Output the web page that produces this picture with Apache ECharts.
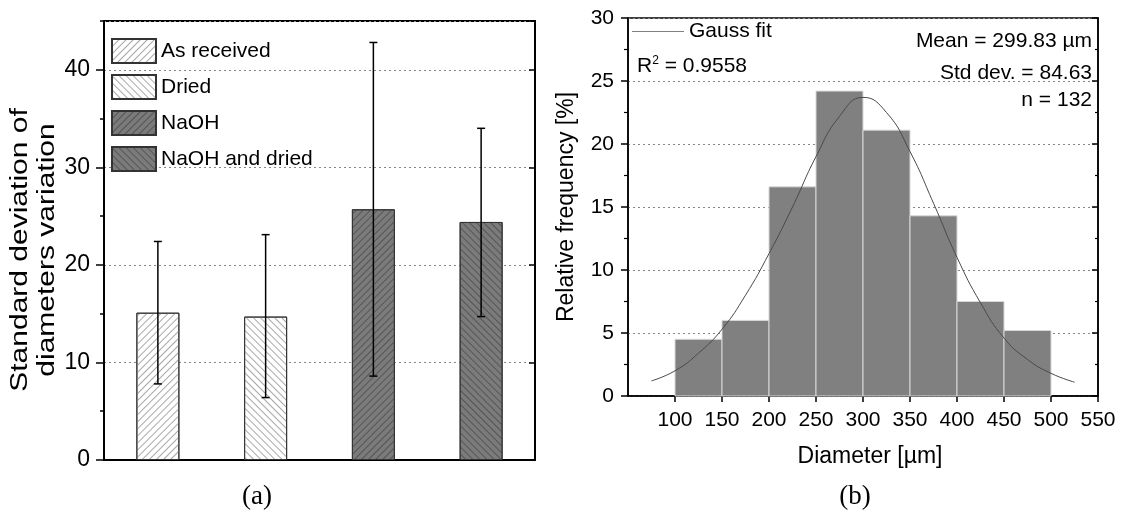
<!DOCTYPE html>
<html><head><meta charset="utf-8">
<script src="https://cdn.jsdelivr.net/npm/echarts@6/dist/echarts.min.js"></script>
<style>html,body{margin:0;padding:0;background:#fff}#c{width:1125px;height:525px}</style>
</head><body><div id="c"></div>
<script>
// ---- (a) data ----
const groups = ['As received', 'Dried', 'NaOH', 'NaOH and dried'];
const meanSD = [15.1, 14.7, 25.7, 24.4];
const errLow = [7.8, 6.4, 8.6, 14.7];
const errHigh = [22.4, 23.1, 42.8, 34.0];
// ---- (b) data ----
const binStart = [100, 150, 200, 250, 300, 350, 400, 450];
const binEnd = [150, 200, 250, 300, 350, 400, 450, 500];
const relFreq = [4.5, 6.0, 16.6, 24.2, 21.1, 14.3, 7.5, 5.2];
const gaussX = [75, 100, 125, 150, 175, 200, 225, 250, 275, 300, 325, 350, 375, 400, 425, 450, 475, 500, 525];
const gaussY = [1.2, 2.0, 3.4, 5.3, 8.0, 11.3, 15.0, 19.0, 22.2, 23.7, 22.5, 19.4, 15.3, 11.0, 7.4, 4.6, 2.9, 1.8, 1.1];

const SANS = "'Liberation Sans', Arial, sans-serif";
const SERIF = "'Liberation Serif', 'Times New Roman', serif";

const fills = ['#ffffff', '#ffffff', '#7b7b7b', '#7b7b7b'];
const hatchColors = ['#a8a8a8', '#a8a8a8', '#555555', '#555555'];
const hatchRot = [-Math.PI / 4, Math.PI / 4, -Math.PI / 4, Math.PI / 4];

const chart = echarts.init(document.getElementById('c'), null, { renderer: 'canvas' });

const barSeries = groups.map((g, i) => ({
  name: g,
  type: 'bar',
  xAxisIndex: 0, yAxisIndex: 0,
  stack: 'one',
  barWidth: 43,
  data: groups.map((_, j) => (j === i ? meanSD[i] : '-')),
  itemStyle: {
    color: fills[i],
    borderColor: '#333',
    borderWidth: 1,
    decal: {
      symbol: 'rect', symbolSize: 1,
      dashArrayX: [1, 0], dashArrayY: [1, 4],
      rotation: hatchRot[i], color: hatchColors[i]
    }
  },
  emphasis: { disabled: true },
  z: 2
}));

const errSeries = {
  type: 'custom',
  xAxisIndex: 0, yAxisIndex: 0,
  data: groups.map((_, i) => [i, errLow[i], errHigh[i]]),
  renderItem: function (params, api) {
    const x = api.value(0);
    const lo = api.coord([x, api.value(1)]);
    const hi = api.coord([x, api.value(2)]);
    const hw = 4;
    const st = { stroke: '#000', lineWidth: 1.5 };
    return {
      type: 'group',
      children: [
        { type: 'line', shape: { x1: lo[0], y1: lo[1], x2: hi[0], y2: hi[1] }, style: st },
        { type: 'line', shape: { x1: lo[0] - hw, y1: lo[1], x2: lo[0] + hw, y2: lo[1] }, style: st },
        { type: 'line', shape: { x1: hi[0] - hw, y1: hi[1], x2: hi[0] + hw, y2: hi[1] }, style: st }
      ]
    };
  },
  z: 5
};

const histSeries = {
  type: 'custom',
  xAxisIndex: 1, yAxisIndex: 3,
  data: binStart.map((s, i) => [s, binEnd[i], relFreq[i]]),
  renderItem: function (params, api) {
    const p0 = api.coord([api.value(0), api.value(2)]);
    const p1 = api.coord([api.value(1), 0]);
    return {
      type: 'rect',
      shape: { x: p0[0], y: p0[1], width: p1[0] - p0[0], height: p1[1] - p0[1] },
      style: { fill: '#808080', stroke: '#d8d8d8', lineWidth: 1 }
    };
  },
  z: 2
};

const gaussSeries = {
  name: 'Gauss fit',
  type: 'line',
  xAxisIndex: 1, yAxisIndex: 3,
  data: gaussX.map((x, i) => [x, gaussY[i]]),
  smooth: true,
  symbol: 'none',
  lineStyle: { color: '#4a4a4a', width: 1 },
  itemStyle: { color: '#808080' },
  z: 4
};

const dotted = { show: true, lineStyle: { color: '#888', type: [2, 3], width: 1 } };

chart.setOption({
  animation: false,
  backgroundColor: '#fff',
  grid: [
    { left: 104, top: 21, width: 431, height: 439, show: true, borderColor: '#000', borderWidth: 2, backgroundColor: 'transparent' },
    { left: 628, top: 18, width: 470, height: 378, show: true, borderColor: '#000', borderWidth: 1.5, backgroundColor: 'transparent' }
  ],
  legend: [
    {
      data: groups, orient: 'vertical', left: 111, top: 38, padding: 0,
      icon: 'rect',
      itemWidth: 44, itemHeight: 24, itemGap: 10,
      textStyle: { fontSize: 21, fontFamily: SANS, color: '#000' },
      selectedMode: false
    },
    {
      data: [{ name: 'Gauss fit', icon: 'rect' }], left: 632, top: 21, padding: 0,
      itemWidth: 52, itemHeight: 1,
      itemStyle: { color: '#808080' },
      textStyle: { fontSize: 21, fontFamily: SANS, color: '#000' },
      selectedMode: false
    }
  ],
  xAxis: [
    {
      type: 'category', gridIndex: 0, data: groups,
      axisLine: { lineStyle: { color: '#000', width: 2 } },
      axisTick: { show: false }, axisLabel: { show: false }
    },
    {
      type: 'value', gridIndex: 1, min: 50, max: 550, interval: 50,
      axisLine: { onZero: false, lineStyle: { color: '#000', width: 1.5 } },
      axisTick: { length: 6, lineStyle: { color: '#000', width: 1.5 } },
      axisLabel: { showMinLabel: false, fontSize: 21, fontFamily: SANS, color: '#000', margin: 14 },
      splitLine: { show: false }
    }
  ],
  yAxis: [
    {
      type: 'value', gridIndex: 0, min: 0, max: 45, interval: 10, position: 'left',
      axisLine: { show: true, lineStyle: { color: '#000', width: 2 } },
      axisTick: { show: true, length: 8, lineStyle: { color: '#000', width: 1.5 } },
      axisLabel: { showMaxLabel: false, fontSize: 23, fontFamily: SANS, color: '#000', margin: 14 },
      splitLine: dotted
    },
    {
      type: 'value', gridIndex: 0, min: 0, max: 45, interval: 5, position: 'left', offset: 0,
      axisLine: { show: false },
      axisTick: { show: true, length: 4, lineStyle: { color: '#000', width: 1.5 } },
      axisLabel: { show: false }, splitLine: { show: false }
    },
    {
      type: 'value', gridIndex: 0, min: 0, max: 45, interval: 10, position: 'right',
      axisLine: { show: true, lineStyle: { color: '#000', width: 1.5 } },
      axisTick: { show: true, inside: true, length: 6, lineStyle: { color: '#000', width: 1.5 } },
      axisLabel: { show: false }, splitLine: { show: false }
    },
    {
      type: 'value', gridIndex: 1, min: 0, max: 30, interval: 5, position: 'left',
      axisLine: { show: true, lineStyle: { color: '#000', width: 1.5 } },
      axisTick: { show: true, length: 7, lineStyle: { color: '#000', width: 1.5 } },
      minorTick: { show: true, splitNumber: 2, length: 4, lineStyle: { color: '#000', width: 1.2 } },
      axisLabel: { fontSize: 21, fontFamily: SANS, color: '#000', margin: 14 },
      splitLine: dotted
    },
    {
      type: 'value', gridIndex: 1, min: 0, max: 30, interval: 5, position: 'right',
      axisLine: { show: true, lineStyle: { color: '#000', width: 1.5 } },
      axisTick: { show: true, inside: true, length: 6, lineStyle: { color: '#000', width: 1.5 } },
      minorTick: { show: true, splitNumber: 2, length: 3, lineStyle: { color: '#000', width: 1.2 } },
      axisLabel: { show: false }, splitLine: { show: false }
    }
  ],
  series: [...barSeries, errSeries, histSeries, gaussSeries],
  graphic: [
    {
      type: 'text', x: 34, y: 250, rotation: Math.PI / 2, scaleY: 0.8,
      style: { text: 'Standard deviation of\ndiameters variation', fontSize: 30, lineHeight: 34, fontFamily: SANS, fill: '#000', align: 'center', verticalAlign: 'middle' }
    },
    {
      type: 'text', x: 567, y: 207, rotation: Math.PI / 2,
      style: { text: 'Relative frequency [%]', fontSize: 23, fontFamily: SANS, fill: '#000', align: 'center', verticalAlign: 'middle' }
    },
    {
      type: 'text', x: 870, y: 457,
      style: { text: 'Diameter [µm]', fontSize: 23, fontFamily: SANS, fill: '#000', align: 'center', verticalAlign: 'middle' }
    },
    {
      type: 'text', x: 637, y: 66,
      style: {
        text: 'R{sup|2} = 0.9558', fontSize: 21, fontFamily: SANS, fill: '#000', align: 'left', verticalAlign: 'middle',
        rich: { sup: { fontSize: 12, fontFamily: SANS, fill: '#000', verticalAlign: 'top', padding: [0, 0, 10, 0] } }
      }
    },
    {
      type: 'text', x: 1092, y: 41,
      style: { text: 'Mean = 299.83 µm', fontSize: 21, fontFamily: SANS, fill: '#000', align: 'right', verticalAlign: 'middle' }
    },
    {
      type: 'text', x: 1092, y: 73,
      style: { text: 'Std dev. = 84.63', fontSize: 21, fontFamily: SANS, fill: '#000', align: 'right', verticalAlign: 'middle' }
    },
    {
      type: 'text', x: 1092, y: 100,
      style: { text: 'n = 132', fontSize: 21, fontFamily: SANS, fill: '#000', align: 'right', verticalAlign: 'middle' }
    },
    {
      type: 'text', x: 257, y: 497,
      style: { text: '(a)', fontSize: 27, fontFamily: SERIF, fill: '#000', align: 'center', verticalAlign: 'middle' }
    },
    {
      type: 'text', x: 855, y: 497,
      style: { text: '(b)', fontSize: 27, fontFamily: SERIF, fill: '#000', align: 'center', verticalAlign: 'middle' }
    }
  ]
});
</script>
</body></html>
